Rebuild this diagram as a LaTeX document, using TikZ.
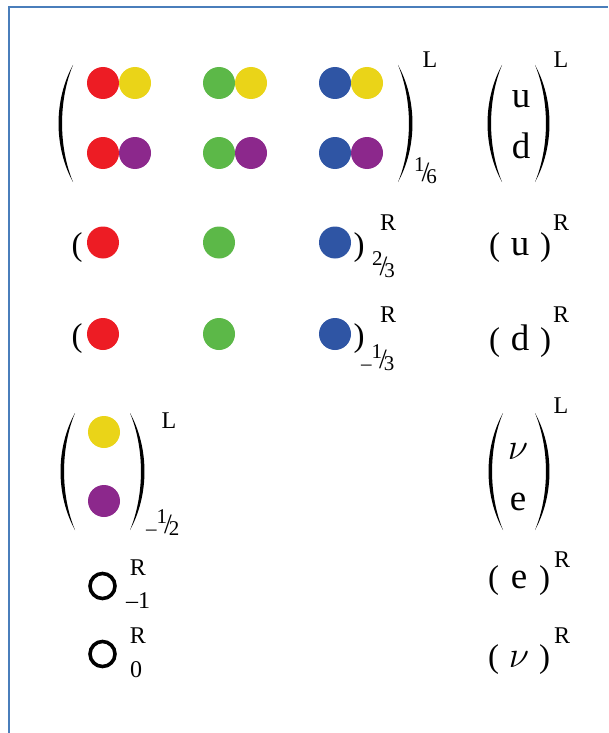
\documentclass[tikz,border=0pt]{standalone}
\usepackage{fix-cm}
\usepackage{fontspec}
\setmainfont{Liberation Serif}
\definecolor{qred}{HTML}{ED1C24}
\definecolor{qyel}{HTML}{EAD418}
\definecolor{qgrn}{HTML}{5CB848}
\definecolor{qblu}{HTML}{2F55A4}
\definecolor{qpur}{HTML}{8C288C}
\definecolor{frameblue}{HTML}{4A7EBB}
\newcommand{\ltrsz}{\fontsize{37}{40}\selectfont}
\newcommand{\parsz}{\fontsize{33}{36}\selectfont}
\newcommand{\scrsz}{\fontsize{24}{26}\selectfont}
% tall bracket: #1 x of the ends, #2 top, #3 bottom
\newcommand{\lbrk}[3]{\fill (#1,#2) .. controls ({#1-19.3},{#2+0.3*(#3-#2)}) and ({#1-19.3},{#2+0.7*(#3-#2)}) .. (#1,#3)
  .. controls ({#1-14.6},{#2+0.7*(#3-#2)}) and ({#1-14.6},{#2+0.3*(#3-#2)}) .. cycle;}
\newcommand{\rbrk}[3]{\fill (#1,#2) .. controls ({#1+19.3},{#2+0.3*(#3-#2)}) and ({#1+19.3},{#2+0.7*(#3-#2)}) .. (#1,#3)
  .. controls ({#1+14.6},{#2+0.7*(#3-#2)}) and ({#1+14.6},{#2+0.3*(#3-#2)}) .. cycle;}
\newcommand{\slfrac}[2]{{\fontsize{21}{22}\selectfont\raisebox{12pt}{#1}\kern-3pt\raisebox{2pt}{\fontsize{28}{30}\selectfont /}\kern-3pt#2}}
\begin{document}
\begin{tikzpicture}[x=1pt, y=-1pt]
    \tikzset{sphere/.style={
        circle,
        fill=#1,
        minimum size=32pt,
        inner sep=0pt
    }}
    \tikzset{ring/.style={
        circle,
        draw,
        line width=3.6pt,
        minimum size=25pt,
        inner sep=0pt
    }}
    \tikzset{tag/.style={anchor=base, inner sep=0pt, font=\scrsz}}
    \tikzset{ltr/.style={anchor=base, inner sep=0pt, font=\ltrsz}}
    \tikzset{chg/.style={anchor=base west, inner sep=0pt}}
    \tikzset{par/.style={anchor=base, inner sep=0pt, font=\parsz}}
    \useasboundingbox (0,0) rectangle (608,733);
    \draw[frameblue, line width=1.5pt] (9,733) -- (9,7) -- (608,7);

    % left-handed quarks
    \begin{scope}
        \lbrk{73}{65}{182}
        \rbrk{398}{65}{182}
        \node[sphere=qred] (r1) at (103,83) {};
        \node[sphere=qyel] (y1) at (135,83) {};
        \node[sphere=qgrn] (g1) at (219,83) {};
        \node[sphere=qyel] (y2) at (251,83) {};
        \node[sphere=qblu] (b1) at (335,83) {};
        \node[sphere=qyel] (y3) at (367,83) {};
        \node[sphere=qred] (r2) at (103,153) {};
        \node[sphere=qpur] (p1) at (135,153) {};
        \node[sphere=qgrn] (g2) at (219,153) {};
        \node[sphere=qpur] (p2) at (251,153) {};
        \node[sphere=qblu] (b2) at (335,153) {};
        \node[sphere=qpur] (p3) at (367,153) {};
        \node[tag] (QL) at (430,68) {L};
        \node[chg] (QY) at (414,183) {\slfrac{1}{6}};

        \lbrk{502}{65}{182}
        \rbrk{535}{65}{182}
        \node[ltr] (u) at (521,108) {u};
        \node[ltr] (d) at (521,158) {d};
        \node[tag] (udL) at (561,68) {L};
    \end{scope}

    % right-handed up quarks
    \node[par] (uo) at (77,255) {(};
    \node[sphere=qred] (rU) at (103,242.5) {};
    \node[sphere=qgrn] (gU) at (219,242.5) {};
    \node[sphere=qblu] (bU) at (335,242.5) {};
    \node[par] (uc) at (359,255) {)};
    \node[tag] (UR) at (388,230) {R};
    \node[chg] (UY) at (372,277) {\slfrac{2}{3}};
    \node[ltr] (uR) at (520,255) {{\parsz(}\makebox[40pt]{u}{\parsz)}};
    \node[tag] (uRs) at (561,230) {R};

    % right-handed down quarks
    \node[par] (do) at (77,346) {(};
    \node[sphere=qred] (rD) at (103,334) {};
    \node[sphere=qgrn] (gD) at (219,334) {};
    \node[sphere=qblu] (bD) at (335,334) {};
    \node[par] (dc) at (359,346) {)};
    \node[tag] (DR) at (388,322) {R};
    \node[chg] (DY) at (361,370) {{\fontsize{21}{22}\selectfont --}\slfrac{1}{3}};
    \node[ltr] (dR) at (520,350) {{\parsz(}\makebox[40pt]{d}{\parsz)}};
    \node[tag] (dRs) at (561,322) {R};

    % left-handed leptons
    \lbrk{75}{413}{530}
    \rbrk{130}{413}{530}
    \node[sphere=qyel] (yL) at (104,432) {};
    \node[sphere=qpur] (pL) at (104,501) {};
    \node[tag] (LL) at (169,428) {L};
    \node[chg] (LY) at (146,535) {{\fontsize{21}{22}\selectfont --}\slfrac{1}{2}};
    \lbrk{503}{413}{530}
    \rbrk{535}{413}{530}
    \node[ltr] (nu) at (518,459) {$\nu$};
    \node[ltr] (e) at (518,510) {e};
    \node[tag] (neL) at (561,413) {L};

    % right-handed leptons
    \node[ring] (eR) at (102.5,586) {};
    \node[tag] (ER) at (138,575) {R};
    \node[tag] (EY) at (138,608) {--1};
    \node[ltr] (eRs) at (519,588) {{\parsz(}\makebox[40pt]{e}{\parsz)}};
    \node[tag] (eRt) at (562,567) {R};

    \node[ring] (nR) at (102.5,654) {};
    \node[tag] (NR) at (138,643) {R};
    \node[tag] (NY) at (136,677) {0};
    \node[ltr] (nRs) at (519,667) {{\parsz(}\makebox[40pt]{$\nu$}{\parsz)}};
    \node[tag] (nRt) at (562,643) {R};
\end{tikzpicture}
\end{document}
